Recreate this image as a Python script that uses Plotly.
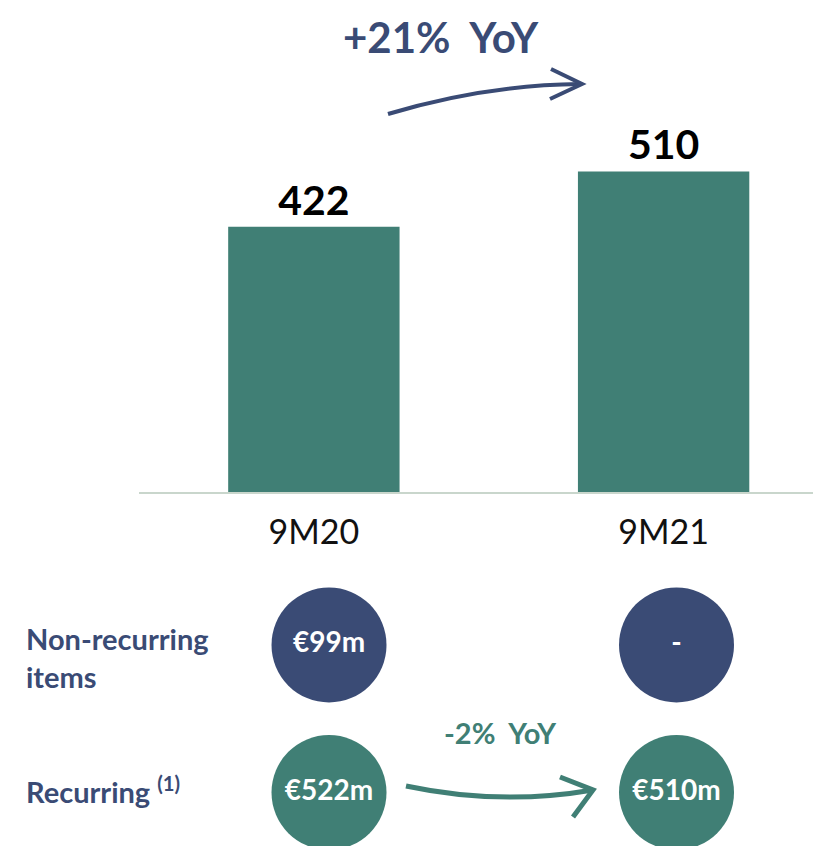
import plotly.graph_objects as go

# ---- data ----
categories = ["9M20", "9M21"]
ebitda = [422, 510]
row_keys = ["Non-recurring", "Recurring"]
row_labels = ["Non-recurring<br>items", "Recurring <sup>(1)</sup>"]
non_recurring_text = ["€99m", "-"]
recurring_text = ["€522m", "€510m"]
top_change = "+21%  YoY"
rec_change = "-2%  YoY"

# ---- style ----
OFF = 8                      # page body margin
W, H = 821 - OFF, 846 - OFF
L = 139 - OFF
NAVY = "#3A4B75"
TEAL = "#407F75"
FONT = "Lato"


def px(x):
    """screen x -> paper x"""
    return (x - OFF - L) / (W - L)


def py(y):
    """screen y -> paper y"""
    return (H - (y - OFF)) / H


fig = go.Figure()

fig.add_trace(go.Bar(
    x=categories, y=ebitda, width=0.49,
    marker=dict(color=TEAL, line=dict(width=0)),
    text=[f"<b>{v}</b>" for v in ebitda], textposition="outside",
    textfont=dict(family=FONT, size=41, color="#000000"),
    cliponaxis=False, xaxis="x", yaxis="y", showlegend=False,
))

fig.add_trace(go.Scatter(
    x=categories, y=[row_keys[0]] * len(categories), mode="markers+text",
    marker=dict(size=115, color=NAVY, line=dict(width=0)),
    text=[f"<b>{t}</b>" for t in non_recurring_text], textposition="middle center",
    textfont=dict(family=FONT, size=28, color="white"),
    xaxis="x2", yaxis="y2", showlegend=False, cliponaxis=False,
))
fig.add_trace(go.Scatter(
    x=categories, y=[row_keys[1]] * len(categories), mode="markers+text",
    marker=dict(size=115, color=TEAL, line=dict(width=0)),
    text=[f"<b>{t}</b>" for t in recurring_text], textposition="middle center",
    textfont=dict(family=FONT, size=28, color="white"),
    xaxis="x2", yaxis="y2", showlegend=False, cliponaxis=False,
))

split = py(492)

shapes = [
    dict(type="path", xref="paper", yref="paper",
         path=f"M {px(388)},{py(114)} Q {px(484)},{py(85)} {px(580)},{py(84)}",
         line=dict(color=NAVY, width=4)),
    dict(type="path", xref="paper", yref="paper",
         path=f"M {px(551)},{py(69)} L {px(582)},{py(84)} L {px(550)},{py(99)}",
         line=dict(color=NAVY, width=4)),
    dict(type="path", xref="paper", yref="paper",
         path=f"M {px(406)},{py(786)} Q {px(500)},{py(806)} {px(593)},{py(790)}",
         line=dict(color=TEAL, width=5)),
    dict(type="path", xref="paper", yref="paper",
         path=f"M {px(560)},{py(777)} L {px(593)},{py(790)} L {px(573)},{py(817)}",
         line=dict(color=TEAL, width=5)),
]

annotations = [
    dict(text=f"<b>{top_change}</b>", xref="paper", yref="paper",
         x=px(441), y=py(37), xanchor="center", yanchor="middle",
         showarrow=False, font=dict(family=FONT, size=42, color=NAVY)),
    dict(text=f"<b>{rec_change}</b>", xref="paper", yref="paper",
         x=px(500), y=py(732), xanchor="center", yanchor="middle", showarrow=False,
         font=dict(family=FONT, size=29, color=TEAL)),
]
for key, lab, shift in zip(row_keys, row_labels, [-12, 3]):
    annotations.append(dict(
        text=f"<b>{lab}</b>", xref="paper", yref="y2", x=px(24), y=key,
        xanchor="left", yanchor="middle", align="left", yshift=shift,
        showarrow=False, font=dict(family=FONT, size=29, color=NAVY)))

fig.update_layout(
    width=W, height=H,
    margin=dict(l=L, r=0, t=0, b=0),
    paper_bgcolor="white", plot_bgcolor="white",
    shapes=shapes, annotations=annotations,
    xaxis=dict(domain=[0, 1], anchor="y", type="category", range=[-0.5, 1.45],
               showline=True, linecolor="#C9D6CC", linewidth=1.5,
               ticks="outside", ticklen=9, tickcolor="rgba(0,0,0,0)",
               tickfont=dict(family=FONT, size=34, color="#111111"),
               showgrid=False, zeroline=False, fixedrange=True),
    yaxis=dict(domain=[split, 1], anchor="x", range=[0, 770], visible=False,
               showgrid=False, zeroline=False),
    xaxis2=dict(domain=[0, 1], anchor="y2", type="category",
                range=[-0.5468, 1.4158], visible=False),
    yaxis2=dict(domain=[0, split], anchor="x2", type="category",
                categoryorder="array", categoryarray=["Recurring", "Non-recurring"],
                range=[-0.3627, 2.0373], visible=False),
)

fig.write_html("out.html")
